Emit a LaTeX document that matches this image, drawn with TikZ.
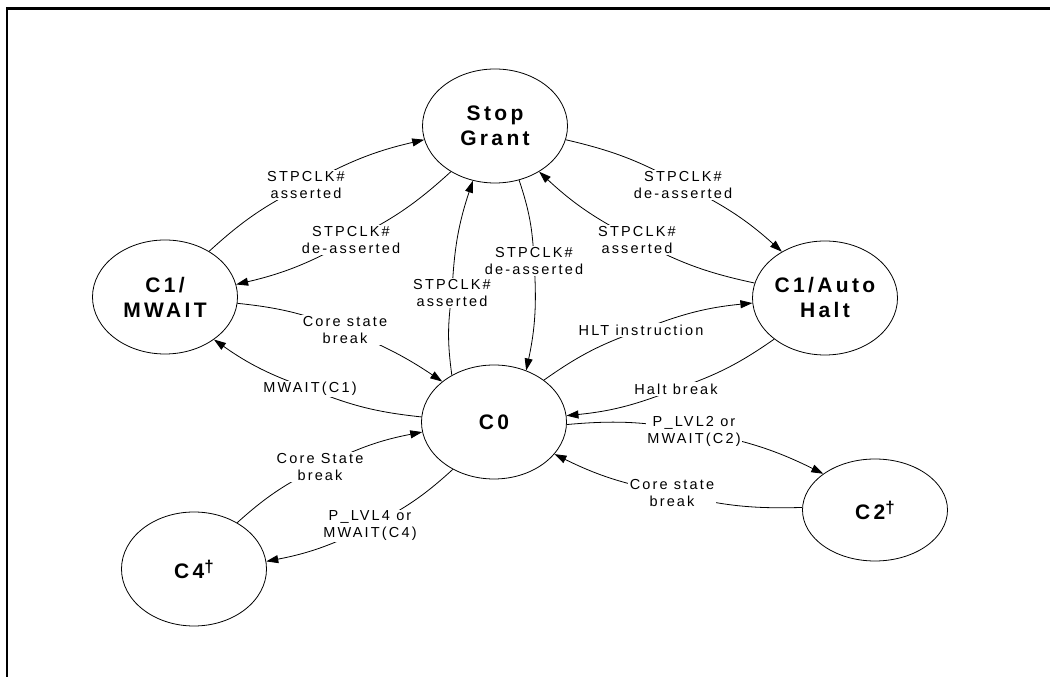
\documentclass[tikz,border=0pt]{standalone}
\usepackage{fontspec}
\setmainfont{Liberation Sans}
\newfontfamily\lblfont[LetterSpace=15]{Liberation Sans}
\newfontfamily\stfont[LetterSpace=16]{Liberation Sans}
\usetikzlibrary{arrows.meta,shapes.geometric}
\pgfdeclarelayer{bg}
\pgfsetlayers{bg,main}
\tikzset{
  state/.style={ellipse, draw, line width=0.8pt, minimum width=145pt, minimum height=114pt,
    inner sep=0pt, align=center, font=\stfont\bfseries\fontsize{21}{25}\selectfont},
  lbl/.style={fill=white, inner sep=1.5pt, align=center, font=\lblfont\fontsize{14.5}{17}\selectfont},
  edge/.style={line width=0.8pt, -{Triangle[length=12pt,width=8pt]}},
  frame/.style={line width=2.7pt},
}
\newcommand{\mydagger}{\raisebox{6pt}{\fontsize{17}{17}\selectfont †}}
\begin{document}
\begin{tikzpicture}[x=1pt,y=1pt]
\useasboundingbox (0,0) rectangle (1050,677);
\draw[frame] (7,0) -- (7,668.5) -- (1050,668.5);

% states
\node[state] (SG) at (495,551) {Stop\\Grant};
\node[state] (MW) at (165,380) {C1/\\MWAIT};
\node[state] (AH) at (825,379) {C1/Auto\\Halt};
\node[state] (C0) at (494,255) {C0};
\node[state] (C4) at (194,108) {C4\mydagger};
\node[state, minimum height=102pt] (C2) at (875,167) {C2\mydagger};

% labels
\node[lbl] (L1) at (306,492) {STPCLK\#\\asserted};
\node[lbl] (L2) at (351,437) {STPCLK\#\\de-asserted};
\node[lbl] (L3) at (345,347) {Core state\\break};
\node[lbl] (L4) at (310,288) {MWAIT(C1)};
\node[lbl] (L5) at (452,384) {STPCLK\#\\asserted};
\node[lbl] (L6) at (534,416) {STPCLK\#\\de-asserted};
\node[lbl] (L7) at (637,437) {STPCLK\#\\asserted};
\node[lbl] (L8) at (683,492) {STPCLK\#\\de-asserted};
\node[lbl] (L9) at (641,347) {HLT instruction};
\node[lbl] (L10) at (676,288) {Halt break};
\node[lbl] (L11) at (694,246) {P\_LVL2 or\\MWAIT(C2)};
\node[lbl] (L12) at (672,184) {Core state\\break};
\node[lbl] (L13) at (320,210) {Core State\\break};
\node[lbl] (L14) at (370,151) {P\_LVL4 or\\MWAIT(C4)};

\begin{pgfonlayer}{bg}
\draw[edge] (MW.46) to[bend left=8] (L1.center) to[bend left=8] (SG.191);
\draw[edge] (SG.226) to[bend left=8] (L2.center) to[bend left=8] (MW.10);
\draw[edge] (MW.-5) to[bend left=8] (L3.center) to[bend left=6] (C0.142);
\draw[edge] (C0.176) to[bend left=8] (L4.center) to[bend left=8] (MW.-41);
\draw[edge] (C0.132) to[bend left=8] (L5.center) to[bend left=8] (SG.248);
\draw[edge] (SG.294) to[bend left=8] (L6.center) to[bend left=8] (C0.58);
\draw[edge] (AH.168) to[bend left=8] (L7.center) to[bend left=8] (SG.-46);
\draw[edge] (SG.-11) to[bend left=8] (L8.center) to[bend left=8] (AH.133);
\draw[edge] (C0.40) to[bend left=8] (L9.center) to[bend left=8] (AH.184);
\draw[edge] (AH.219) to[bend left=8] (L10.center) to[bend left=8] (C0.5);
\draw[edge] (C0.-2) to[bend left=8] (L11.center) to[bend left=8] (C2.145);
\draw[edge] (C2.178) to[bend left=8] (L12.center) to[bend left=8] (C0.-28);
\draw[edge] (C4.47) to[bend left=8] (L13.center) to[bend left=8] (C0.188);
\draw[edge] (C0.229) to[bend left=8] (L14.center) to[bend left=8] (C4.6);
\end{pgfonlayer}
\end{tikzpicture}
\end{document}
